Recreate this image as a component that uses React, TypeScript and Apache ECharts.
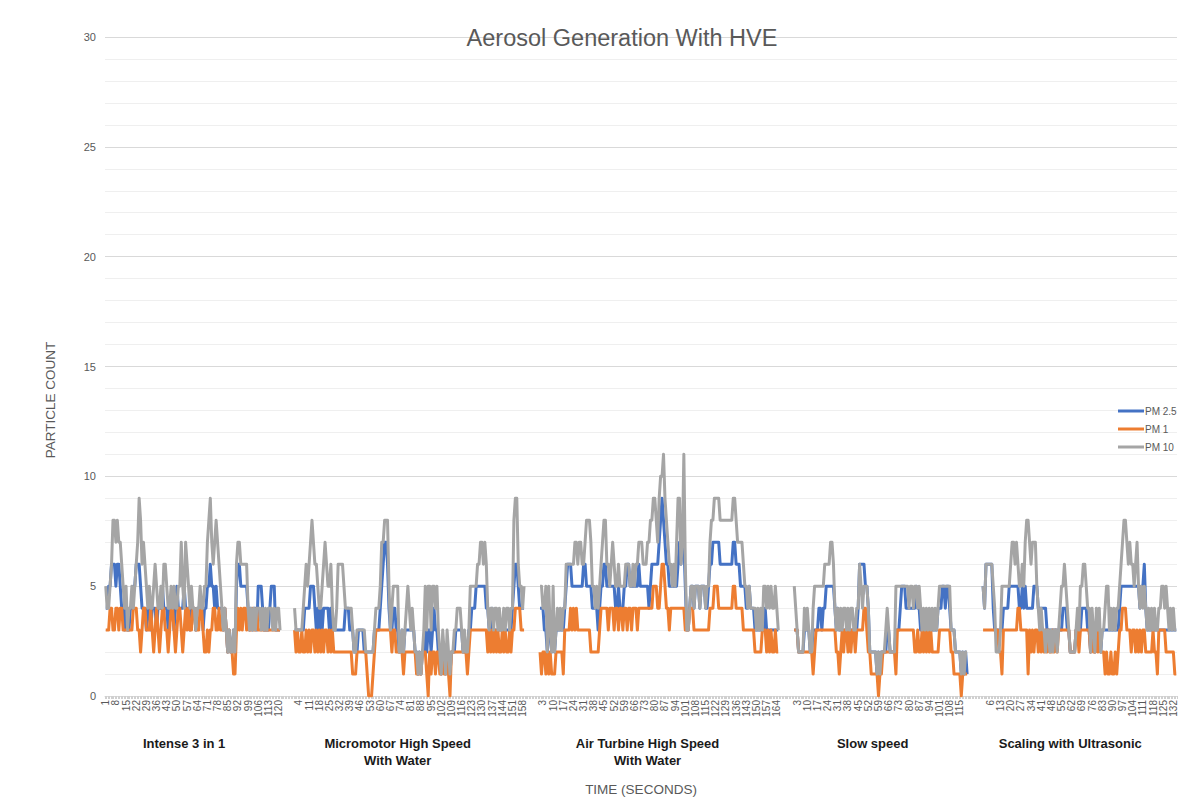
import React, { useEffect, useRef } from "react";
import * as echarts from "echarts";

// ---------- DATA ----------
const groupNames = [
  "Intense 3 in 1",
  "Micromotor High Speed\nWith Water",
  "Air Turbine High Speed\nWith Water",
  "Slow speed",
  "Scaling with Ultrasonic",
];
const seriesNames = ["PM 2.5", "PM 1", "PM 10"];
const yTicks = [0, 5, 10, 15, 20, 25, 30];

// Intense 3 in 1 (121 s)
const pm10Intense = [
  5,4,4,5,6,8,8,7,8,7, 7,6,5,4,5,3,4,4,5,4, 5,6,7,9,8,6,7,6,5,4, 5,4,4,5,6,5,4,4,5,4,
  6,6,5,4,4,5,4,5,4,4, 5,5,7,5,4,7,6,5,4,5, 4,4,3,4,4,5,4,4,5,5, 7,8,9,7,6,7,8,7,6,5,
  4,3,4,3,2,3,2,2,3,2, 6,7,7,6,6,6,6,6,4,3, 4,3,4,3,4,4,4,3,4,3, 4,3,4,4,4,3,4,3,4,4,3,
];
const pm25Intense = [
  4,4,5,5,6,6,6,5,6,6, 5,4,4,3,4,3,3,4,4,5, 5,6,6,6,5,4,4,4,3,4, 4,3,4,4,4,3,4,4,4,5,
  4,4,4,3,4,4,4,3,4,5, 4,4,4,4,5,4,4,4,3,4, 4,4,3,4,4,4,4,3,4,4, 5,5,6,5,5,4,5,4,4,4,
  4,3,4,3,2,3,2,2,3,2, 5,6,6,5,5,5,5,5,4,3, 4,3,4,4,3,5,5,5,4,3, 3,3,3,4,5,5,5,3,3,3,3,
];
const pm1Intense = [
  3,3,3,4,4,3,3,4,4,3, 4,4,3,3,3,3,3,3,3,4, 4,4,3,3,2,3,4,4,3,3, 3,4,3,2,3,4,3,2,3,4,
  4,3,3,2,3,4,4,3,2,3, 4,4,3,2,3,4,3,4,3,3, 4,4,3,3,3,4,4,3,2,2, 3,2,3,3,4,4,3,3,4,3,
  3,3,4,3,2,3,2,2,1,1, 3,4,3,4,3,4,4,3,4,3, 3,4,3,3,4,3,3,3,3,3, 3,3,3,3,3,3,3,3,3,3,3,
];

// Micromotor High Speed With Water (159 s)
const pm10Micro = [
  4,3,3,3, 3,3,4,5,6,5,6,7,8, 7,6,6,5,4, 4,5,6,7,6,5,5,6,4,3,3, 4,6,6,6,6,5,4, 4,4,4,4,
  3,2,2,3, 3,3,3,3,3,2, 2,2,2,2,2, 3,4,4,4,5, 7,7,8,8,8, 5,3,4,5,5,5, 5,2,2,3, 2,3,4,5,4,3,
  4,3,2,2,1,2,1,2,3, 5,3,5,5,3,5,5,4,5, 3,2,1,3,2,1,3,2,1, 2,2,3,3,4,4,4, 3,2,3,2,2,
  3,5,5,5,5,5,6, 6,7,7,6,7,6, 4,3,4,4,3,4, 4,3,4,3,3,4,3,4,4,3,4,4, 8,9,9,6, 5,5,4,5,
];
const pm25Micro = [
  3,3,3,3, 3,3,3,4,4,4,4,5,5, 5,4,3,4,3, 4,3,4,4,4,4,3,4,3,3,3, 3,3,3,3,3,3,4, 4,4,3,3,
  3,2,2,2, 3,3,3,3,2,2, 2,2,2,2,2, 3,3,3,3,4, 5,6,7,7,6, 4,3,3,4,4,3, 3,2,2,3, 2,3,3,3,3,3,
  3,3,2,2,1,2,1,2,2, 3,2,3,3,2,3,4,3,3, 2,2,1,2,2,1,2,2,1, 2,2,2,3,3,3,3, 3,2,2,2,2,
  3,3,4,4,4,5,5, 5,5,5,5,5,4, 4,3,3,4,3,3, 3,3,3,3,3,3,3,3,3,3,3,4, 5,6,6,5, 4,4,4,4,
];
const pm1Micro = [
  3,2,3,2, 2,3,2,2,3,2,3,2,3, 3,2,3,2,3, 2,3,2,3,3,2,3,2,3,2,2, 2,2,2,2,2,2,2, 2,2,2,2,
  1,1,1,2, 2,2,2,2,2,2, 1,0,0,0,1, 2,3,3,3,3, 3,3,3,3,3, 3,3,2,3,3,2, 2,2,2,2, 1,2,2,2,2,2,
  2,2,2,1,1,1,1,2,2, 2,1,0,2,1,2,2,1,2, 2,1,1,2,1,1,2,1,0, 2,2,2,2,2,2,2, 2,2,2,2,1,
  2,3,3,3,3,3,3, 3,3,3,3,3,3, 2,3,2,3,2,3, 2,3,2,2,3,2,3,2,2,3,2,3, 3,4,4,4, 4,3,3,3,
];

// Air Turbine High Speed With Water (165 s)
const pm10Turbine = [
  5,5,4,4, 5,2,5,3,2, 5,2,3,4,3,4,3,4, 4,6,6,6,6, 6,6,7,7,6,7,7, 6,6,7,8,8,8,7, 5,5,4,5,4,5,
  6,7,8,8,6,6,5, 6,7,6,5,5,6,5,5, 5,5,6,6, 6,5,5,6,5,6,6,7,7, 7,6,6,6,7,7,8, 8,9,9,8,7,9,10,
  10,11,9,8,7,6,6, 5,6,5,7,9,9,6, 7,11,6, 3,3,4, 5,5,4,5,5,5,4,5,5,5,4,5,5, 7,8,8,9,9,9,9,
  8,8,8,8,8,8,8,8,8, 9,9,8, 7,7,7,7,6,5, 5,4,5,4,4,4,4, 3,4,3,4,3,5,5, 4,5,4,5,4,4,5,4,3,
];
const pm25Turbine = [
  4,4,4,3, 3,2,3,3,2, 3,2,3,3,3,3,3,3, 4,5,6,6,6, 5,5,5,5,5,5,5, 5,6,6,5,5,5,5, 4,4,4,4,3,4,
  5,5,6,6,5,5,5, 5,5,5,4,4,5,4,4, 4,5,5,6, 6,5,5,5,5,5,5,6,5, 5,5,5,5,5,4,5, 6,6,6,6,6,7,8,
  9,8,7,6,6,5,5, 5,5,5,5,6,7,6, 7,7,5, 3,3,4, 5,5,4,5,5,5,4,5,5,5,4,4,5, 6,6,7,7,7,7,7,
  6,6,6,6,6,6,6,6,6, 7,7,6, 6,6,5,5,5,5, 4,4,5,4,4,4,3, 3,3,3,3,3,3,4, 3,3,3,3,3,3,3,3,3,
];
const pm1Turbine = [
  2,1,2,2, 1,2,1,2,1, 1,1,2,2,2,2,2,1, 3,3,3,3,4, 3,4,3,4,3,3,3, 3,3,3,3,3,3,2, 2,2,2,2,2,3,
  4,4,4,4,4,3,4, 4,4,3,4,4,3,4,4, 3,4,4,3, 4,4,3,4,4,4,3,4,4, 4,4,4,4,4,4,4, 4,5,5,5,4,4,5,
  6,6,5,4,4,3,4, 4,4,4,4,4,4,4, 4,4,3, 3,3,4, 4,4,3,3,3,3,3,3,3,3,3,3,3, 4,4,4,5,5,5,4,
  4,4,4,4,4,4,4,4,4, 5,5,4, 4,4,4,4,3,3, 3,3,3,3,3,3,2, 2,2,2,2,3,3,3, 2,3,2,3,2,2,3,2,2,
];

// Slow speed (120 s)
const pm10Slow = [
  5,4,3, 2,2,2,2,4, 3,4,3,2,2, 4,5,5, 5,5,5,5,5, 6,6,6,6,7, 7,6, 4,3,4,3,
  4,3,4,4,3,4,3,4,4,3,3,4,4, 6,5,4,5, 5,5,4,2,2,2, 2,2,1,2,1,2,2,2, 3,4,3,2,2,
  2,2,5,5,5,5,5, 5,5,5,5,4,5, 5,4,5,5,4,5, 4,3,4,3,4,3,4,3, 4,3,4,3,4,
  5,5,5,5,5,5,5,5, 3,3,3,2,2,2,2, 1,2,1,2,2,
];
const pm25Slow = [
  3,3,3, 2,2,2,2,3, 3,3,3,2,2, 3,3,3, 3,4,4,3,4, 4,5,5,5,5, 5,5, 4,3,4,3,
  3,3,3,3,3,3,3,3,3,3,3,3,4, 6,6,6,6, 5,5,4,2,2,2, 2,2,1,2,1,2,2,2, 2,3,3,2,2,
  2,2,3,3,3,4,5, 5,5,4,4,4,4, 4,4,4,5,4,4, 3,3,3,3,3,3,3,3, 3,3,3,3,4,
  4,4,5,5,4,5,5,4, 3,3,3,2,2,2,2, 1,2,1,2,1,
];
const pm1Slow = [
  3,3,3, 2,2,2,2,2, 2,2,2,2,2, 1,2,3, 3,3,3,3,3, 3,3,3,3,3, 3,3, 3,2,2,1,
  2,3,2,3,3,2,3,2,3,3,2,3,3, 3,3,3,4, 4,3,2,2,1,1, 1,1,1,0,1,1,2,2, 2,2,2,2,2,
  2,2,1,3,3,3,3, 3,3,3,3,3,3, 3,3,2,2,3,2, 2,3,2,3,2,3,2,3, 2,2,2,2,2,
  3,3,3,3,3,3,3,3, 2,2,1,1,1,1,1, 0,1,1,1,1,
];

// Scaling with Ultrasonic (134 s)
const pm10Scaling = [
  5,4,6,6,6,6,6,5, 4,2,2,2, 3,5,5,5,5, 5,5,6,7,7,6,7, 6,5,5,6,5,7,8, 8,7,6,7,7,7, 5,4,3,4,3,
  3,2,3,3,2,3,2,3,3,2,3, 4,5,5,6,5,4,3, 2,2,2,2,3,4,3, 5,5,6,6,5,4, 4,2,4,3,2,4,3,4,2,3,
  3,4,5,5,3,4,3,4,3,4,4, 5,6,7,8,8,7,6, 7,6,6,5,6,7,5,4,5, 4,5,4,3,4,3,4,3,4,
  3,3,4,4,5,5,4, 5,4,3,4,3,4,3,3,
];
const pm25Scaling = [
  5,4,6,6,6,6,6,4, 3,3,3,3, 3,3,4,4,4, 4,5,5,5,5,5,5, 5,4,4,5,4,5,4, 4,4,4,4,5,5, 5,4,4,4,4,
  4,4,3,3,3,3,3,3,3,3,3, 3,3,4,4,4,3,3, 2,2,2,2,3,3,3, 3,4,4,4,4,3, 3,2,3,3,2,3,3,3,2,3,
  3,3,3,3,3,3,3,3,3,3,3, 4,5,5,5,5,5,5, 5,5,5,5,5,5,5,4,5, 5,6,4,3,3,3,3,3,3,
  3,3,3,3,3,3,3, 3,3,3,3,3,3,3,3,
];
const pm1Scaling = [
  3,3,3,3,3,3,3,3, 3,3,3,2, 2,1,3,3,3, 3,3,3,3,3,3,3, 4,4,3,3,3,3,3, 1,3,2,3,2,3, 3,2,3,2,3,
  2,3,2,3,2,2,3,2,3,2,3, 3,3,3,3,3,3,3, 2,2,2,2,3,3,2, 3,3,3,3,3,3, 3,2,3,2,2,3,2,3,2,2,
  2,1,2,1,1,2,1,1,2,1,2, 3,3,4,4,4,3,3, 3,2,3,3,2,3,2,3,2, 3,3,2,2,2,2,2,3,2,
  2,1,3,3,3,3,3, 2,2,2,2,2,2,1,1,
];

const pm25Groups = [pm25Intense, pm25Micro, pm25Turbine, pm25Slow, pm25Scaling];
const pm1Groups = [pm1Intense, pm1Micro, pm1Turbine, pm1Slow, pm1Scaling];
const pm10Groups = [pm10Intense, pm10Micro, pm10Turbine, pm10Slow, pm10Scaling];
// blank categories after each group (the breaks between procedures)
const gapAfter = [9, 10, 10, 10, 0];

// ---------- BUILD ----------
function build() {
  const cats: string[] = [];
  const groupCats: string[] = [];
  const s25: (number | null)[] = [];
  const s1: (number | null)[] = [];
  const s10: (number | null)[] = [];
  groupNames.forEach((name, gi) => {
    const n = pm25Groups[gi].length;
    const start = cats.length;
    for (let k = 0; k < n; k++) {
      cats.push(String(k + 1));
      groupCats.push("");
      s25.push(pm25Groups[gi][k] ?? null);
      s1.push(pm1Groups[gi][k] ?? null);
      s10.push(pm10Groups[gi][k] ?? null);
    }
    groupCats[start + Math.floor(n * 0.45)] = name;
    for (let k = 0; k < gapAfter[gi]; k++) {
      cats.push("");
      groupCats.push("");
      s25.push(null);
      s1.push(null);
      s10.push(null);
    }
  });
  return { cats, groupCats, s25, s1, s10 };
}

const FONT = "'Liberation Sans', Arial, Helvetica, sans-serif";
const GREY_TEXT = "#595959";

export default function App() {
  const ref = useRef<HTMLDivElement>(null);
  useEffect(() => {
    if (!ref.current) return;
    const chart = echarts.init(ref.current, undefined, { renderer: "svg" });
    const { cats, groupCats, s25, s1, s10 } = build();
    const lineSeries = (name: string, data: (number | null)[], color: string) => ({
      name,
      type: "line",
      data,
      xAxisIndex: 0,
      yAxisIndex: 0,
      showSymbol: false,
      symbol: "none",
      connectNulls: false,
      color,
      lineStyle: { width: 3, color, join: "round" },
      emphasis: { disabled: true },
    });
    chart.setOption({
      animation: false,
      backgroundColor: "#ffffff",
      textStyle: { fontFamily: FONT },
      title: {
        text: "Aerosol Generation With HVE",
        left: 617,
        top: 21,
        textAlign: "center",
        textStyle: { fontSize: 23.5, fontWeight: "normal", color: GREY_TEXT, fontFamily: FONT },
      },
      legend: {
        orient: "vertical",
        left: 1113,
        top: 401,
        itemWidth: 26,
        itemHeight: 3,
        itemGap: 8,
        icon: "rect",
        data: seriesNames,
        textStyle: { fontSize: 10, color: GREY_TEXT, fontFamily: FONT, padding: [0, 0, 0, -4] },
      },
      grid: { left: 105, right: 10, top: 37, bottom: 104, containLabel: false },
      xAxis: [
        {
          type: "category",
          data: cats,
          boundaryGap: true,
          axisLine: { show: true, lineStyle: { color: "#d9d9d9", width: 1 } },
          axisTick: { show: true, interval: 0, length: 3, lineStyle: { color: "#d0d0d0" } },
          axisLabel: {
            interval: (i: number, v: string) => i % 7 === 0 && v !== "",
            showMinLabel: true,
            showMaxLabel: true,
            rotate: 90,
            fontSize: 10,
            color: GREY_TEXT,
            margin: 4,
            fontFamily: FONT,
          },
          splitLine: { show: false },
          name: "TIME (SECONDS)",
          nameLocation: "middle",
          nameGap: 86,
          nameTextStyle: { fontSize: 13.5, color: GREY_TEXT, fontFamily: FONT },
        },
        {
          type: "category",
          data: groupCats,
          position: "bottom",
          offset: 39,
          boundaryGap: true,
          axisLine: { show: false },
          axisTick: { show: false },
          axisLabel: {
            interval: (_i: number, v: string) => v !== "",
            fontSize: 13,
            fontWeight: "bold",
            color: "#1a1a1a",
            margin: 0,
            lineHeight: 17,
            fontFamily: FONT,
          },
          splitLine: { show: false },
        },
      ],
      yAxis: {
        type: "value",
        min: yTicks[0],
        max: yTicks[yTicks.length - 1],
        interval: 5,
        axisLine: { show: false },
        axisTick: { show: false },
        axisLabel: { fontSize: 11, color: GREY_TEXT, margin: 9, fontFamily: FONT },
        splitLine: { show: true, lineStyle: { color: "#d9d9d9", width: 1 } },
        minorTick: { show: false, splitNumber: 5 },
        minorSplitLine: { show: true, lineStyle: { color: "#efefef", width: 1 } },
      },
      graphic: [
        {
          type: "text",
          x: 50,
          y: 400,
          rotation: Math.PI / 2,
          style: {
            text: "PARTICLE COUNT",
            fontSize: 13.5,
            fontFamily: FONT,
            fill: GREY_TEXT,
            align: "center",
            verticalAlign: "middle",
            textAlign: "center",
            textVerticalAlign: "middle",
          },
        },
      ],
      series: [
        lineSeries(seriesNames[0], s25, "#4472C4"),
        lineSeries(seriesNames[1], s1, "#ED7D31"),
        lineSeries(seriesNames[2], s10, "#A5A5A5"),
      ],
    });
    return () => chart.dispose();
  }, []);
  return (
    <div
      ref={ref}
      style={{ position: "fixed", left: 0, top: 0, width: 1187, height: 801, background: "#fff" }}
    />
  );
}
